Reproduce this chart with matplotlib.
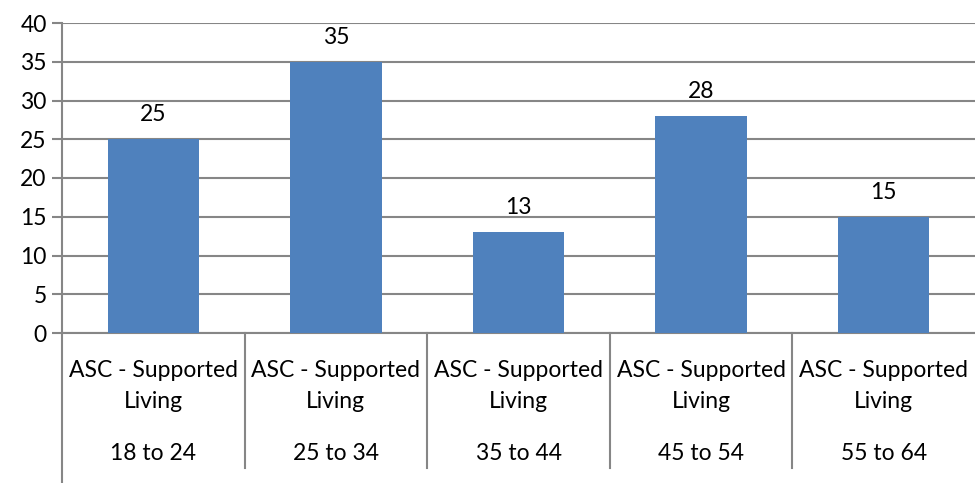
import matplotlib
matplotlib.use("Agg")
import matplotlib.pyplot as plt
from matplotlib.transforms import blended_transform_factory

categories = ["ASC - Supported\nLiving"] * 5
age_groups = ["18 to 24", "25 to 34", "35 to 44", "45 to 54", "55 to 64"]
values = [25, 35, 13, 28, 15]
y_ticks = [0, 5, 10, 15, 20, 25, 30, 35, 40]

plt.rcParams['font.family'] = ['Lato', 'DejaVu Sans']
grey = "#868686"
bar_color = "#4F81BD"
fs = 16.5

fig = plt.figure(figsize=(9.75, 4.83), dpi=100)
ax = fig.add_axes([62 / 975, 1 - 333 / 483, 1 - 62 / 975, (333 - 23) / 483])

x = list(range(len(values)))
ax.bar(x, values, width=0.5, color=bar_color, zorder=3)
for xi, v in zip(x, values):
    ax.annotate(str(v), (xi, v), xytext=(0, 10), textcoords="offset points",
                ha="center", va="bottom", fontsize=fs)

ax.set_xlim(-0.5, len(values) - 0.5)
ax.set_ylim(0, 40)
ax.set_yticks(y_ticks)
ax.tick_params(axis="y", labelsize=fs, length=7, color=grey, width=1.5, pad=4)
ax.set_xticks([])
ax.yaxis.grid(True, color=grey, linewidth=1.5, zorder=0)

for s in ["top", "right"]:
    ax.spines[s].set_visible(False)
for s in ["left", "bottom"]:
    ax.spines[s].set_color(grey)
    ax.spines[s].set_linewidth(1.5)

# two-level category labels below the axis
trans = blended_transform_factory(ax.transData, fig.transFigure)
for xi, cat, age in zip(x, categories, age_groups):
    ax.text(xi, 1 - 386 / 483, cat, transform=trans, ha="center", va="center",
            fontsize=fs, linespacing=1.6)
    ax.text(xi, 1 - 453 / 483, age, transform=trans, ha="center", va="center",
            fontsize=fs)

# separators between category groups
for b in [i + 0.5 for i in x[:-1]]:
    ax.plot([b, b], [1 - 333 / 483, 1 - 468 / 483], transform=trans,
            color=grey, linewidth=1.5, clip_on=False)
# extended left axis line
ax.plot([-0.5, -0.5], [1 - 333 / 483, 0.0], transform=trans,
        color=grey, linewidth=1.5, clip_on=False)

fig.savefig("out.png", dpi=100)
